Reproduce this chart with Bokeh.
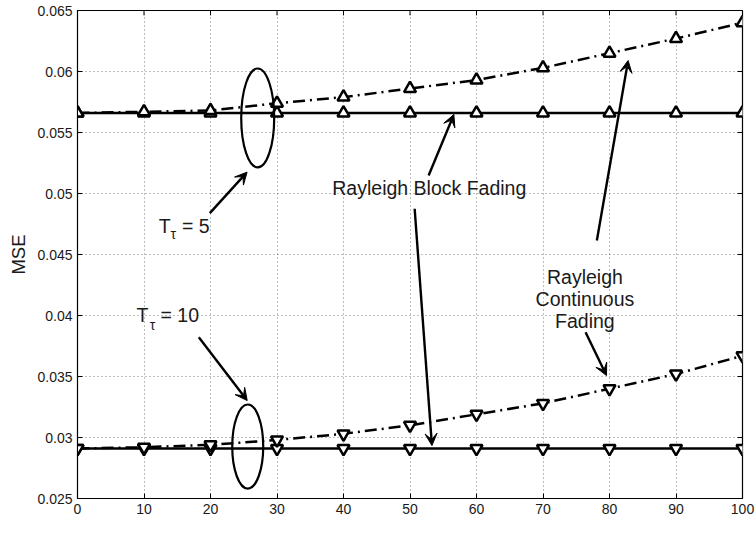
from bokeh.plotting import figure
from bokeh.models import (Range1d, FixedTicker, Label, Arrow, VeeHead, ColumnDataSource)
from bokeh.embed import file_html
from bokeh.resources import INLINE

# ---------------- data ----------------
nTs = [0, 10, 20, 30, 40, 50, 60, 70, 80, 90, 100]
block_T5 = [0.0566, 0.0566, 0.0566, 0.0566, 0.0566, 0.0566, 0.0566, 0.0566, 0.0566, 0.0566, 0.0566]
cont_T5 = [0.0566, 0.0567, 0.0568, 0.0574, 0.0579, 0.0586, 0.0593, 0.0603, 0.0615, 0.0627, 0.0640]
block_T10 = [0.0291, 0.0291, 0.0291, 0.0291, 0.0291, 0.0291, 0.0291, 0.0291, 0.0291, 0.0291, 0.0291]
cont_T10 = [0.0291, 0.0292, 0.0294, 0.0298, 0.0303, 0.0310, 0.0319, 0.0328, 0.0340, 0.0352, 0.0367]

x_ticks = [0, 10, 20, 30, 40, 50, 60, 70, 80, 90, 100]
y_ticks = [0.025, 0.03, 0.035, 0.04, 0.045, 0.05, 0.055, 0.06, 0.065]
y_tick_labels = ["0.025", "0.03", "0.035", "0.04", "0.045", "0.05", "0.055", "0.06", "0.065"]

FONT = "Liberation Sans"
TXT = "#1a1a1a"
X0, X1, Y0, Y1 = 0, 100, 0.025, 0.065

p = figure(width=756, height=551, output_backend="svg", toolbar_location=None,
           x_range=Range1d(X0, X1), y_range=Range1d(Y0, Y1),
           min_border_left=77, min_border_right=14, min_border_top=10, min_border_bottom=53)
p.background_fill_color = "white"
p.border_fill_color = "white"
p.outline_line_color = "black"
p.outline_line_width = 1.2

for ax in (p.xaxis[0], p.yaxis[0]):
    ax.major_tick_in = 5
    ax.major_tick_out = 0
    ax.minor_tick_line_color = None
    ax.axis_line_color = "black"
    ax.major_tick_line_color = "black"
    ax.major_label_text_font = FONT
    ax.major_label_text_font_size = "14px"
    ax.major_label_text_color = TXT
    ax.major_label_standoff = 5

p.xaxis.ticker = FixedTicker(ticks=x_ticks)
p.yaxis.ticker = FixedTicker(ticks=y_ticks)
p.yaxis.major_label_overrides = {t: l for t, l in zip(y_ticks, y_tick_labels)}
p.yaxis.axis_label = "MSE"
p.yaxis.axis_label_text_font = FONT
p.yaxis.axis_label_text_font_size = "18.5px"
p.yaxis.axis_label_text_font_style = "normal"
p.yaxis.axis_label_text_color = TXT
p.yaxis.axis_label_standoff = 5

# grid
for g in (p.xgrid[0], p.ygrid[0]):
    g.grid_line_color = "#444444"
    g.grid_line_dash = "1 3"
    g.grid_line_width = 1
    g.grid_line_alpha = 0.7

# mirrored inward ticks on the top and right edges
p.segment(x0=x_ticks, x1=x_ticks, y0=[Y1] * len(x_ticks), y1=[Y1 - 0.0004] * len(x_ticks),
          line_color="black", line_width=1)
p.segment(x0=[X1] * len(y_ticks), x1=[X1 - 0.75] * len(y_ticks), y0=y_ticks, y1=y_ticks,
          line_color="black", line_width=1)

# series
DASH = "12 5 2 5"
LW = 2.5
p.line(nTs, block_T5, line_color="black", line_width=LW)
p.line(nTs, block_T10, line_color="black", line_width=LW)
p.line(nTs, cont_T5, line_color="black", line_width=LW, line_dash=DASH)
p.line(nTs, cont_T10, line_color="black", line_width=LW, line_dash=DASH)
MS, MLW = 12, 2.5
p.scatter(nTs, block_T5, marker="triangle", size=MS, fill_color="white", line_color="black", line_width=MLW)
p.scatter(nTs, cont_T5, marker="triangle", size=MS, fill_color="white", line_color="black", line_width=MLW)
p.scatter(nTs, block_T10, marker="inverted_triangle", size=MS, fill_color="white", line_color="black", line_width=MLW)
p.scatter(nTs, cont_T10, marker="inverted_triangle", size=MS, fill_color="white", line_color="black", line_width=MLW)

# ellipses
p.ellipse(x=[27.1, 25.6], y=[0.05619, 0.02926], width=[4.96, 4.66], height=[0.00811, 0.00689],
          fill_color=None, line_color="black", line_width=2.2)

# arrows
arr_src = ColumnDataSource(dict(
    xs=[19.9, 18.24, 52.8, 50.7, 78.1, 76.4],
    ys=[0.04839, 0.03822, 0.05148, 0.04875, 0.04615, 0.03863],
    xe=[25.5, 25.52, 56.6, 53.3, 82.8, 79.55],
    ye=[0.05175, 0.03303, 0.05648, 0.02934, 0.0609, 0.03508],
))
p.add_layout(Arrow(source=arr_src, x_start="xs", y_start="ys", x_end="xe", y_end="ye",
                   line_color="black", line_width=2.4,
                   end=VeeHead(size=12, fill_color="black", line_color="black", line_width=1)))

DY = 0.00057  # baseline correction


def lab(x, y, text, size="19.5px", align="left"):
    p.add_layout(Label(x=x, y=y + DY, text=text, text_font=FONT, text_font_size=size,
                       text_color=TXT, text_align=align, text_baseline="alphabetic"))


# T_tau = 5
lab(12.2, 0.0468, "T")
lab(14.0, 0.04607, "τ", size="14px")
lab(15.7, 0.0468, "= 5")
# T_tau = 10
lab(8.87, 0.03945, "T")
lab(10.87, 0.03863, "τ", size="14px")
lab(12.48, 0.03945, "= 10")
# Rayleigh labels
lab(52.9, 0.04984, "Rayleigh Block Fading", align="center")
lab(76.3, 0.04260, "Rayleigh", align="center")
lab(76.3, 0.04082, "Continuous", align="center")
lab(76.3, 0.03899, "Fading", align="center")
# x axis label nT_s
lab(47.8, 0.02197, "nT", size="17.5px")
lab(51.1, 0.02098, "s", size="14px")

open("out.html", "w").write(file_html(p, INLINE))
